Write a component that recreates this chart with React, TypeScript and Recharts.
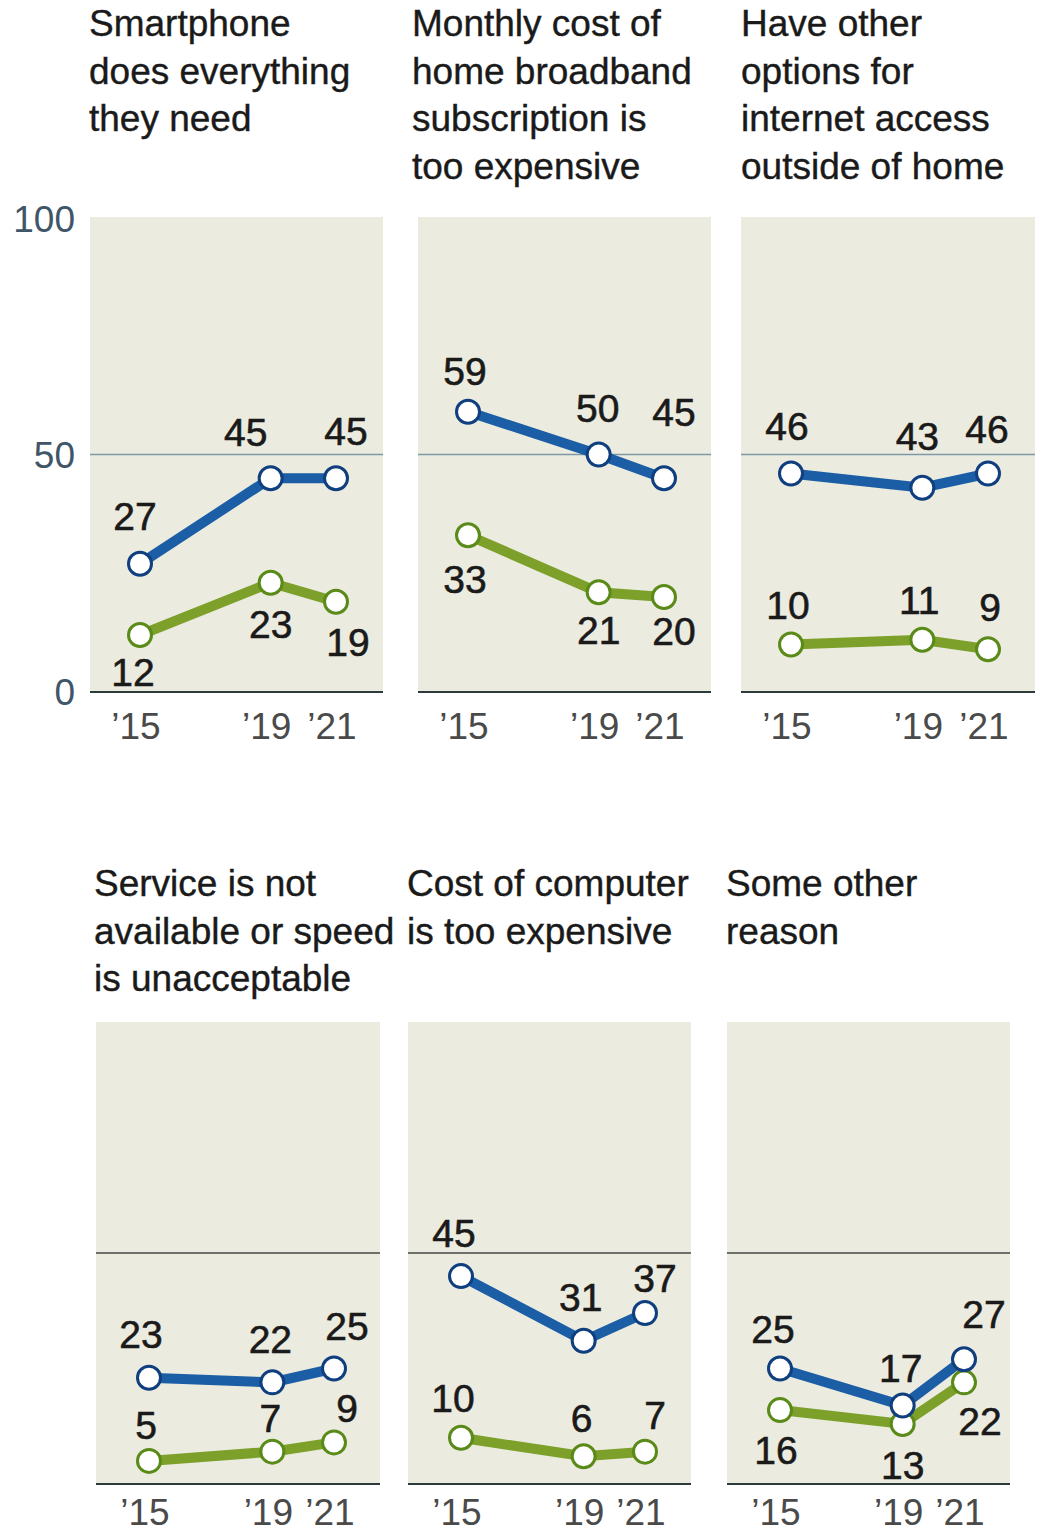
import React from 'react'
import { LineChart, Line, XAxis, YAxis, CartesianGrid, ReferenceLine } from 'recharts'

const FONT = "'Liberation Sans', Arial, sans-serif"

const years = [2015, 2019, 2021]

const titles = [
  ['Smartphone', 'does everything', 'they need'],
  ['Monthly cost of', 'home broadband', 'subscription is', 'too expensive'],
  ['Have other', 'options for', 'internet access', 'outside of home'],
  ['Service is not', 'available or speed', 'is unacceptable'],
  ['Cost of computer', 'is too expensive'],
  ['Some other', 'reason'],
]

// blue line, then green line, one row per panel ('15, '19, '21)
const blueSeries = [
  [27, 45, 45],
  [59, 50, 45],
  [46, 43, 46],
  [23, 22, 25],
  [45, 31, 37],
  [25, 17, 27],
]
const greenSeries = [
  [12, 23, 19],
  [33, 21, 20],
  [10, 11, 9],
  [5, 7, 9],
  [10, 6, 7],
  [16, 13, 22],
]

// where each value label sits relative to its point
const blueLabelOffsets = [
  [[-5, -47], [-25, -46], [10, -47]],
  [[-3, -40], [-1, -46], [10, -66]],
  [[-4, -47], [-5, -51], [-1, -44]],
  [[-8, -43], [-2, -43], [13, -42]],
  [[-7, -43], [-3, -43], [10, -35]],
  [[-7, -39], [-2, -37], [20, -45]],
]
const greenLabelOffsets = [
  [[-7, 37], [0, 42], [12, 41]],
  [[-3, 44], [0, 38], [10, 34]],
  [[-3, -39], [-3, -39], [2, -42]],
  [[-3, -35], [-2, -33], [13, -34]],
  [[-8, -39], [-2, -38], [10, -36]],
  [[-4, 40], [0, 42], [16, 39]],
]

const panels = [
  { left: 90, top: 217, width: 293, height: 475, titleLeft: 89, titleTop: 0, row: 0 },
  { left: 418, top: 217, width: 293, height: 475, titleLeft: 412, titleTop: 0, row: 0 },
  { left: 741, top: 217, width: 294, height: 475, titleLeft: 741, titleTop: 0, row: 0 },
  { left: 96, top: 1022, width: 284, height: 462, titleLeft: 94, titleTop: 860, row: 1 },
  { left: 408, top: 1022, width: 283, height: 462, titleLeft: 407, titleTop: 860, row: 1 },
  { left: 727, top: 1022, width: 283, height: 462, titleLeft: 726, titleTop: 860, row: 1 },
]

const BLUE = '#1b5ea6'
const BLUE_DARK = '#0f3f7e'
const GREEN = '#7ca02a'
const GREEN_DARK = '#5a8a18'
const PANEL_BG = '#ecebdf'

const makeDot = (stroke: string, offsets: number[][]) => (props: any) => {
  const { cx, cy, index, value } = props
  const [dx, dy] = offsets[index]
  return (
    <g key={`dot-${index}`}>
      <circle cx={cx} cy={cy} r={11.5} fill="#fff" stroke={stroke} strokeWidth={3} />
      <text
        x={cx + dx}
        y={cy + dy}
        textAnchor="middle"
        dominantBaseline="central"
        fontSize={39}
        fontFamily={FONT}
        fill="#1a1a1a"
        stroke="#1a1a1a"
        strokeWidth={0.6}
      >
        {value}
      </text>
    </g>
  )
}

function Panel({ idx }: { idx: number }) {
  const p = panels[idx]
  const withY = idx === 0
  const yWidth = 90
  const side = 30
  const topPad = 20
  const xAxisH = 60
  const data = years.map((year, i) => ({
    year,
    blue: blueSeries[idx][i],
    green: greenSeries[idx][i],
  }))
  const chartLeft = withY ? p.left - yWidth : p.left - side
  const chartW = p.width + (withY ? yWidth : side) + side
  const padLeft = p.row === 0 ? 50 : 53
  const padRight = p.row === 0 ? 47 : 46

  return (
    <>
      <div
        style={{
          position: 'absolute',
          left: p.titleLeft,
          top: p.titleTop,
          fontFamily: FONT,
          fontSize: 37,
          lineHeight: '47.5px',
          color: '#1a1a1a',
          whiteSpace: 'nowrap',
          WebkitTextStroke: '0.4px #1a1a1a',
        }}
      >
        {titles[idx].map((t) => (
          <div key={t}>{t}</div>
        ))}
      </div>
      <div style={{ position: 'absolute', left: chartLeft, top: p.top - topPad }}>
        <LineChart
          width={chartW}
          height={topPad + p.height + xAxisH}
          data={data}
          margin={{ top: topPad, right: side, bottom: 0, left: withY ? 0 : side }}
        >
          <CartesianGrid fill={PANEL_BG} horizontal={false} vertical={false} />
          <XAxis
            dataKey="year"
            type="number"
            domain={[2015, 2021]}
            ticks={years}
            padding={{ left: padLeft, right: padRight }}
            tickFormatter={(v) => '\u2019' + String(v).slice(2)}
            axisLine={{ stroke: '#2c3a3c', strokeWidth: 2 }}
            tickLine={false}
            tickMargin={p.row === 0 ? 15 : 9}
            height={xAxisH}
            tick={{ fill: '#4a4a4a', fontSize: 37, fontFamily: FONT, dx: -4 }}
          />
          <YAxis
            type="number"
            domain={[0, 100]}
            ticks={[0, 50, 100]}
            hide={!withY}
            width={yWidth}
            axisLine={false}
            tickLine={false}
            tickMargin={9}
            tick={{ fill: '#3f5568', fontSize: 37, fontFamily: FONT }}
          />
          <ReferenceLine
            y={50}
            stroke={p.row === 0 ? '#7d97a5' : '#6e6f6a'}
            strokeWidth={p.row === 0 ? 1.5 : 2}
          />
          <Line
            dataKey="green"
            stroke={GREEN}
            strokeWidth={10}
            isAnimationActive={false}
            activeDot={false}
            dot={makeDot(GREEN_DARK, greenLabelOffsets[idx])}
          />
          <Line
            dataKey="blue"
            stroke={BLUE}
            strokeWidth={10}
            isAnimationActive={false}
            activeDot={false}
            dot={makeDot(BLUE_DARK, blueLabelOffsets[idx])}
          />
        </LineChart>
      </div>
    </>
  )
}

export default function App() {
  return (
    <div
      style={{
        position: 'absolute',
        left: 0,
        top: 0,
        width: 1039,
        height: 1532,
        background: '#ffffff',
        overflow: 'hidden',
      }}
    >
      {panels.map((_, i) => (
        <Panel key={i} idx={i} />
      ))}
    </div>
  )
}
